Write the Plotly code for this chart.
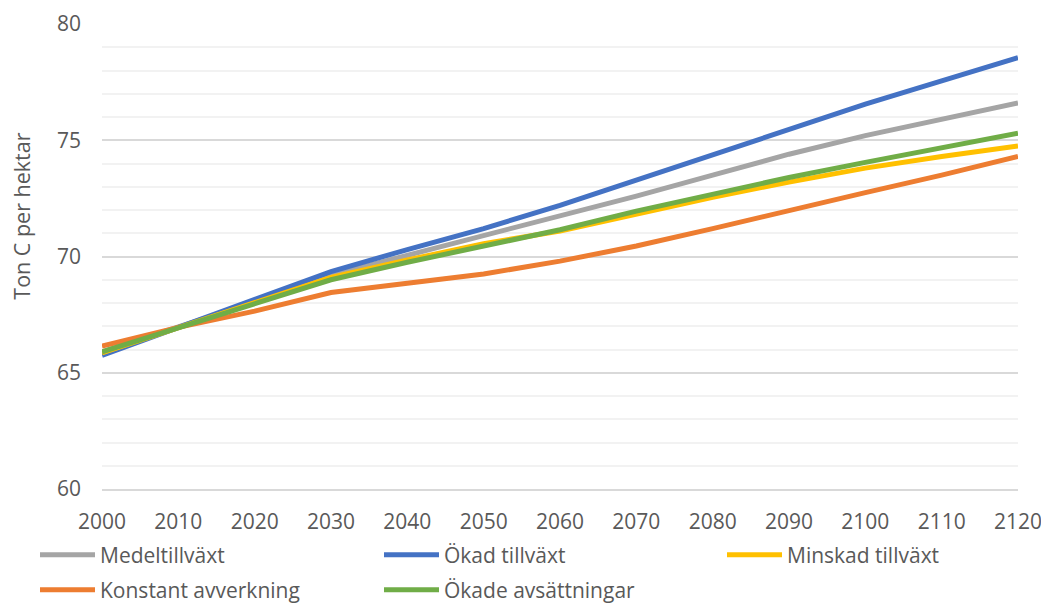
import plotly.graph_objects as go

years = [2000, 2010, 2020, 2030, 2040, 2050, 2060, 2070, 2080, 2090, 2100, 2110, 2120]

medeltillvaxt = [65.9, 66.95, 68.05, 69.2, 70.05, 70.85, 71.7, 72.6, 73.5, 74.4, 75.2, 75.9, 76.6]
okad_tillvaxt = [65.75, 66.95, 68.15, 69.35, 70.3, 71.2, 72.2, 73.3, 74.4, 75.5, 76.55, 77.55, 78.55]
minskad_tillvaxt = [65.85, 66.95, 68.0, 69.1, 69.85, 70.55, 71.1, 71.85, 72.55, 73.2, 73.8, 74.3, 74.75]
konstant_avverkning = [66.15, 66.95, 67.65, 68.45, 68.85, 69.25, 69.8, 70.45, 71.2, 72.0, 72.75, 73.5, 74.3]
okade_avsattningar = [65.9, 66.95, 67.95, 69.0, 69.75, 70.45, 71.15, 71.95, 72.7, 73.4, 74.05, 74.7, 75.3]

x_ticks = list(range(2000, 2121, 10))
y_ticks = [60, 65, 70, 75, 80]

W, H = 1041, 604
font = "Open Sans, Lato, sans-serif"
tc = "#595959"

series = [
    ("Medeltillväxt", medeltillvaxt, "#A5A5A5", "legend", 42, 555),
    ("Ökad tillväxt", okad_tillvaxt, "#4472C4", "legend2", 386, 555),
    ("Minskad tillväxt", minskad_tillvaxt, "#FFC000", "legend3", 729, 555),
    ("Konstant avverkning", konstant_avverkning, "#ED7D31", "legend4", 42, 590),
    ("Ökade avsättningar", okade_avsattningar, "#70AD47", "legend5", 386, 590),
]

fig = go.Figure()
legends = {}
for name, vals, color, leg, lx, ly in series:
    fig.add_trace(go.Scatter(
        x=years, y=vals, name=name, mode="lines",
        line=dict(color=color, width=5),
        legend=leg,
    ))
    legends[leg] = dict(
        xref="container", yref="container",
        x=(lx - 7) / W, y=1 - ly / H, xanchor="left", yanchor="middle",
        orientation="h", itemwidth=55,
        font=dict(size=21, color=tc, family=font), bgcolor="rgba(0,0,0,0)",
    )

fig.update_layout(
    width=W, height=H,
    margin=dict(l=102, r=23, t=24, b=115, autoexpand=False),
    paper_bgcolor="white", plot_bgcolor="white",
    font=dict(family=font, color=tc, size=21),
    showlegend=True,
    xaxis=dict(range=[2000, 2120], tickvals=x_ticks, ticktext=[str(v) for v in x_ticks],
               showgrid=False, zeroline=False, showline=True, linecolor="#D9D9D9", linewidth=1.5,
               ticks="", tickfont=dict(size=21, color=tc), ticklabelstandoff=13,
               ticklabeloverflow="allow"),
    yaxis=dict(range=[60, 80], tickvals=y_ticks, showgrid=True, gridcolor="#D9D9D9", gridwidth=1.5,
               zeroline=False, showline=False, ticks="",
               tickfont=dict(size=21, color=tc), ticklabelstandoff=20,
               minor=dict(dtick=1, showgrid=True, gridcolor="#F2F2F2", gridwidth=1.5)),
    annotations=[dict(text="Ton C per hektar", xref="paper", yref="paper",
                      x=-(102 - 22) / 916, y=(489 - 217) / 464.5, xanchor="center", yanchor="middle",
                      textangle=-90, showarrow=False, font=dict(size=21.5, color=tc, family=font))],
    **legends,
)

fig.write_html("out.html")
